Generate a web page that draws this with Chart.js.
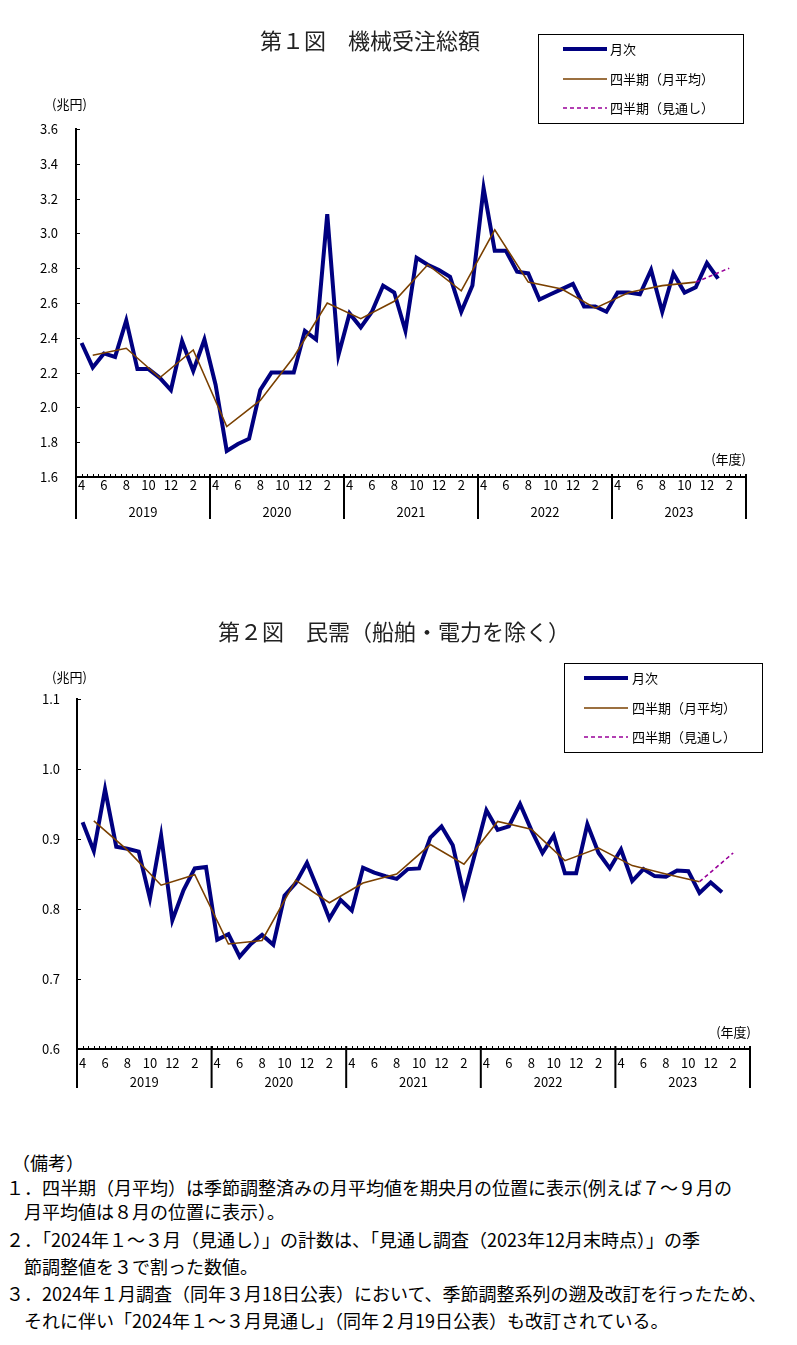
<!DOCTYPE html>
<html lang="ja">
<head>
<meta charset="utf-8">
<script src="https://cdn.jsdelivr.net/npm/chart.js@4.4.1/dist/chart.umd.min.js"></script>
<style>
  html, body { margin: 0; padding: 0; background: #fff; }
  body { width: 797px; height: 1345px; position: relative; overflow: hidden; font-family: "Noto Sans CJK JP", sans-serif; }
  .box { position: absolute; left: 0; width: 797px; height: 540px; }
  #notes { position: absolute; left: 0; top: 0; width: 797px; font-size: 18px; color: #000; }
  #notes div { position: absolute; white-space: nowrap; line-height: 20px; }
</style>
</head>
<body>
<div class="box" style="top:0"><canvas id="chart1" width="797" height="540"></canvas></div>
<div class="box" style="top:560px"><canvas id="chart2" width="797" height="540"></canvas></div>
<div id="notes">
  <div style="left:12px;top:1152px">（備考）</div>
  <div style="left:6px;top:1177px">１．四半期（月平均）は季節調整済みの月平均値を期央月の位置に表示(例えば７～９月の</div>
  <div style="left:24px;top:1201px">月平均値は８月の位置に表示）。</div>
  <div style="left:6px;top:1229px">２．「2024年１～３月（見通し）」の計数は、「見通し調査（2023年12月末時点）」の季</div>
  <div style="left:24px;top:1256px">節調整値を３で割った数値。</div>
  <div style="left:6px;top:1283px">３．2024年１月調査（同年３月18日公表）において、季節調整系列の遡及改訂を行ったため、</div>
  <div style="left:24px;top:1310px">それに伴い「2024年１～３月見通し」（同年２月19日公表）も改訂されている。</div>
</div>
<script>
// 年度と月（4月始まり）
const fiscalYears = ['2019', '2020', '2021', '2022', '2023'];
const monthNames = ['4', '5', '6', '7', '8', '9', '10', '11', '12', '1', '2', '3'];

const seriesLabels = ['月次', '四半期（月平均）', '四半期（見通し）'];

// 第1図 機械受注総額（兆円） 2019年4月～2024年1月
const totalMonthly = [
  2.37, 2.23, 2.31, 2.29, 2.50, 2.22, 2.22, 2.17, 2.10, 2.38, 2.21, 2.39,
  2.13, 1.75, 1.79, 1.82, 2.10, 2.20, 2.20, 2.20, 2.44, 2.39, 3.11, 2.30,
  2.54, 2.46, 2.55, 2.70, 2.66, 2.44, 2.86, 2.82, 2.79, 2.75, 2.55, 2.70,
  3.26, 2.90, 2.90, 2.78, 2.77, 2.62, 2.65, 2.68, 2.71, 2.58, 2.58, 2.55,
  2.66, 2.66, 2.65, 2.79, 2.55, 2.77, 2.66, 2.69, 2.83, 2.74, null, null
];
const totalQuarterly = [
  2.30, 2.34, 2.17, 2.33, 1.89, 2.04, 2.29, 2.60, 2.51, 2.61,
  2.82, 2.67, 3.02, 2.72, 2.68, 2.57, 2.66, 2.70, 2.72
];
const totalOutlook = 2.80;
const totalTicks = [1.6, 3.6, 0.2];

// 第2図 民需（船舶・電力を除く）（兆円）
const privateMonthly = [
  0.924, 0.883, 0.971, 0.889, 0.886, 0.882, 0.815, 0.905, 0.784, 0.827, 0.858, 0.860,
  0.756, 0.764, 0.732, 0.750, 0.763, 0.749, 0.819, 0.837, 0.866, 0.827, 0.786, 0.813,
  0.798, 0.859, 0.852, 0.847, 0.843, 0.857, 0.858, 0.902, 0.918, 0.891, 0.820, 0.880,
  0.941, 0.913, 0.918, 0.950, 0.913, 0.880, 0.905, 0.851, 0.851, 0.921, 0.880, 0.858,
  0.885, 0.840, 0.857, 0.847, 0.846, 0.855, 0.854, 0.823, 0.838, 0.824, null, null
];
const privateQuarterly = [
  0.926, 0.884, 0.834, 0.849, 0.750, 0.755, 0.841, 0.809, 0.837, 0.850,
  0.892, 0.864, 0.925, 0.914, 0.869, 0.887, 0.862, 0.850, 0.839
];
const privateOutlook = 0.880;
const privateTicks = [0.6, 1.1, 0.1];

const categories = [];
fiscalYears.forEach(fy => monthNames.forEach(m => categories.push(fy + '-' + m)));

// 四半期値は期央月に置く
function quarterSeries(q) {
  const arr = categories.map(() => null);
  q.forEach((v, i) => { arr[i * 3 + 1] = v; });
  return arr;
}
function outlookSeries(q, outlook) {
  const arr = categories.map(() => null);
  const last = q.length - 1;
  arr[last * 3 + 1] = q[last];
  arr[(last + 1) * 3 + 1] = outlook;
  return arr;
}

Chart.defaults.font.family = '"Noto Sans CJK JP", sans-serif';
Chart.defaults.font.size = 13;
Chart.defaults.color = '#000';

const decorPlugin = {
  id: 'decor',
  afterDraw(chart, args, o) {
    const ctx = chart.ctx;
    const xs = chart.scales.x, ys = chart.scales.y;
    const area = chart.chartArea;
    const bin = xs.getPixelForValue(1) - xs.getPixelForValue(0);
    ctx.save();
    ctx.strokeStyle = '#000';
    // 半月ごとの目盛（内向き）
    ctx.lineWidth = 1;
    ctx.beginPath();
    for (let i = 0; i < categories.length; i++) {
      const px = xs.getPixelForValue(i);
      [px - bin / 2, px].forEach(p => {
        const xx = Math.round(p) + 0.5;
        ctx.moveTo(xx, area.bottom);
        ctx.lineTo(xx, area.bottom - 3);
      });
    }
    ys.ticks.forEach(t => {
      const py = Math.round(ys.getPixelForValue(t.value)) + 0.5;
      ctx.moveTo(area.left, py);
      ctx.lineTo(area.left + 4, py);
    });
    ctx.stroke();
    // 年度区切り
    ctx.lineWidth = 2;
    ctx.beginPath();
    for (let k = 0; k <= fiscalYears.length; k++) {
      const sx = k < fiscalYears.length
        ? xs.getPixelForValue(k * 12) - bin / 2
        : xs.getPixelForValue(k * 12 - 1) + bin / 2;
      ctx.moveTo(sx, area.bottom - 3);
      ctx.lineTo(sx, o.sepBottom);
    }
    ctx.stroke();
    ctx.fillStyle = '#000';
    ctx.font = '13px "Noto Sans CJK JP"';
    ctx.textAlign = 'center';
    ctx.textBaseline = 'middle';
    fiscalYears.forEach((fy, k) => {
      const cx = (xs.getPixelForValue(k * 12) + xs.getPixelForValue(k * 12 + 11)) / 2;
      ctx.fillText(fy, cx, o.yearY);
    });
    // 単位
    ctx.textAlign = 'left';
    ctx.fillText('(兆円)', o.unitX, o.unitY);
    ctx.textAlign = 'right';
    ctx.fillText('(年度)', o.fyX, o.fyY);
    // タイトル
    ctx.textAlign = 'left';
    ctx.fillStyle = '#222';
    ctx.font = '22px "Noto Sans CJK JP"';
    ctx.fillText(o.title, o.titleX, o.titleY);
    // 凡例
    const lg = o.legend;
    ctx.lineWidth = 1;
    ctx.strokeStyle = '#000';
    ctx.strokeRect(lg.x + 0.5, lg.y + 0.5, lg.w, lg.h);
    ctx.font = '13px "Noto Sans CJK JP"';
    ctx.fillStyle = '#000';
    chart.data.datasets.forEach((ds, i) => {
      const ry = lg.rows[i];
      ctx.save();
      ctx.strokeStyle = ds.borderColor;
      ctx.lineWidth = ds.borderWidth;
      ctx.setLineDash(ds.borderDash || []);
      ctx.beginPath();
      ctx.moveTo(lg.lineX0, ry);
      ctx.lineTo(lg.lineX1, ry);
      ctx.stroke();
      ctx.restore();
      ctx.textAlign = 'left';
      ctx.fillText(ds.label, lg.textX, ry);
    });
    ctx.restore();
  }
};

function makeChart(id, monthly, quarterly, outlook, ticks, lay) {
  return new Chart(document.getElementById(id), {
    type: 'line',
    data: {
      labels: categories,
      datasets: [
        { label: seriesLabels[0], data: monthly, borderColor: '#000080', borderWidth: 4,
          pointRadius: 0, tension: 0, spanGaps: false, borderJoinStyle: 'miter', order: 2 },
        { label: seriesLabels[1], data: quarterSeries(quarterly), borderColor: '#7a4000', borderWidth: 1.6,
          pointRadius: 0, tension: 0, spanGaps: true, order: 1 },
        { label: seriesLabels[2], data: outlookSeries(quarterly, outlook), borderColor: '#990099', borderWidth: 1.6,
          borderDash: [4, 3], pointRadius: 0, tension: 0, spanGaps: true, order: 0 }
      ]
    },
    options: {
      responsive: false,
      devicePixelRatio: 1,
      animation: false,
      layout: { padding: lay.padding },
      plugins: {
        legend: { display: false },
        tooltip: { enabled: false },
        decor: lay.decor
      },
      scales: {
        x: {
          offset: true,
          grid: { display: false, drawTicks: false },
          border: { display: true, color: '#000', width: 2 },
          ticks: {
            autoSkip: false, maxRotation: 0, minRotation: 0, padding: lay.xPad,
            font: { size: 13 },
            callback(v) {
              const m = this.getLabelForValue(v).split('-')[1];
              return Number(m) % 2 === 0 ? m : '';
            }
          },
          afterFit(s) { s.height = 50; }
        },
        y: {
          min: ticks[0], max: ticks[1],
          grid: { display: false, drawTicks: false },
          border: { display: true, color: '#000', width: 2 },
          ticks: { stepSize: ticks[2], padding: lay.yPad, font: { size: 13 }, callback: v => v.toFixed(1) },
          afterFit(s) { s.width = 40; }
        }
      }
    },
    plugins: [decorPlugin]
  });
}

makeChart('chart1', totalMonthly, totalQuarterly, totalOutlook, totalTicks, {
  padding: { left: 36, right: 51, top: 129, bottom: 13 },
  xPad: 0, yPad: 18,
  decor: {
    title: '第１図　機械受注総額', titleX: 260, titleY: 41,
    sepBottom: 519, yearY: 512,
    unitX: 52, unitY: 104, fyX: 746, fyY: 459,
    legend: { x: 538, y: 34, w: 205, h: 89, rows: [49, 79, 108], lineX0: 563, lineX1: 607, textX: 610 }
  }
});

makeChart('chart2', privateMonthly, privateQuarterly, privateOutlook, privateTicks, {
  padding: { left: 37, right: 47, top: 139, bottom: 1 },
  xPad: 6, yPad: 17,
  decor: {
    title: '第２図　民需（船舶・電力を除く）', titleX: 218, titleY: 72,
    sepBottom: 528, yearY: 522,
    unitX: 52, unitY: 117, fyX: 751, fyY: 472,
    legend: { x: 564, y: 103, w: 198, h: 89, rows: [118, 148, 177], lineX0: 584, lineX1: 628, textX: 632 }
  }
});
</script>
</body>
</html>
